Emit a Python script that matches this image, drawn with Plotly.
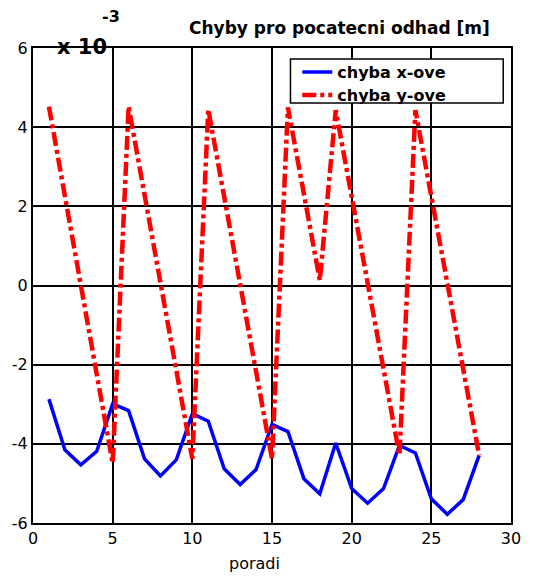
import plotly.graph_objects as go

# Data (values in units of 1e-3 m)
poradi = list(range(1, 29))
chyba_x = [-2.87, -4.15, -4.53, -4.19, -2.99, -3.16, -4.38, -4.81, -4.40, -3.24,
           -3.43, -4.63, -5.03, -4.65, -3.51, -3.69, -4.88, -5.26, -3.98, -5.13,
           -5.50, -5.13, -4.04, -4.23, -5.39, -5.78, -5.41, -4.29]
chyba_y = [4.52, 2.25, 0.00, -2.25, -4.49, 4.52, 2.28, 0.06, -2.16, -4.38,
           4.45, 2.23, 0.02, -2.18, -4.38, 4.50, 2.30, 0.13, 4.43, 2.23,
           0.05, -2.12, -4.29, 4.43, 2.23, 0.05, -2.12, -4.29]
x_ticks = [0, 5, 10, 15, 20, 25, 30]
y_ticks = [-6, -4, -2, 0, 2, 4, 6]

FONT = "DejaVu Sans"
W, H = 533, 578
L, R, T, B = 28, 13, 48, 55
pw, ph = W - L - R, H - T - B

def px(x):
    return (x - L) / pw

def py(y):
    return (H - B - y) / ph

fig = go.Figure()
fig.add_trace(go.Scatter(x=poradi, y=chyba_x, mode="lines", name="chyba x-ove",
                         legend="legend",
                         line=dict(color="#0000FF", width=3.5)))
fig.add_trace(go.Scatter(x=poradi, y=chyba_y, mode="lines", name="chyba y-ove",
                         legend="legend2",
                         line=dict(color="#FF0000", width=4.5, dash="14px,4px,4px,4px")))

axis_common = dict(showgrid=True, gridcolor="black", gridwidth=1.5,
                   zeroline=True, zerolinecolor="black", zerolinewidth=1.5,
                   showline=True, linecolor="black", linewidth=2, mirror=True,
                   ticks="", tickfont=dict(family=FONT, size=16, color="black"))

leg_common = dict(xanchor="left", yanchor="top", bgcolor="rgba(0,0,0,0)", borderwidth=0,
                  font=dict(family=FONT, size=16, color="black", weight="bold"))

fig.update_layout(
    width=W, height=H, autosize=False,
    margin=dict(l=L, r=R, t=T, b=B, pad=0),
    paper_bgcolor="white", plot_bgcolor="white",
    xaxis=dict(range=[0, 30], tickvals=x_ticks, ticktext=[str(v) for v in x_ticks], **axis_common),
    yaxis=dict(range=[-6, 6], tickvals=y_ticks, ticktext=[str(v) for v in y_ticks], **axis_common),
    showlegend=True,
    legend=dict(x=px(300), y=py(55), **leg_common),
    legend2=dict(x=px(300), y=py(78), **leg_common),
    shapes=[dict(type="rect", xref="paper", yref="paper",
                 x0=px(293), x1=px(512), y0=py(103), y1=py(59),
                 line=dict(color="black", width=1.5), fillcolor="white", layer="above")],
    annotations=[
        dict(text="<b>Chyby pro pocatecni odhad [m]</b>", xref="paper", yref="paper",
             x=px(343), y=py(28), xanchor="center", yanchor="middle", showarrow=False,
             font=dict(family=FONT, size=17, color="black")),
        dict(text="<b>x 10</b>", xref="paper", yref="paper",
             x=px(51), y=py(47), xanchor="left", yanchor="middle", showarrow=False,
             font=dict(family=FONT, size=21, color="black")),
        dict(text="<b>-3</b>", xref="paper", yref="paper",
             x=px(108), y=py(16), xanchor="center", yanchor="middle", showarrow=False,
             font=dict(family=FONT, size=16, color="black")),
        dict(text="poradi", xref="paper", yref="paper",
             x=px(256), y=py(563), xanchor="center", yanchor="middle", showarrow=False,
             font=dict(family=FONT, size=16, color="black")),
    ],
)

fig.write_html("out.html")
